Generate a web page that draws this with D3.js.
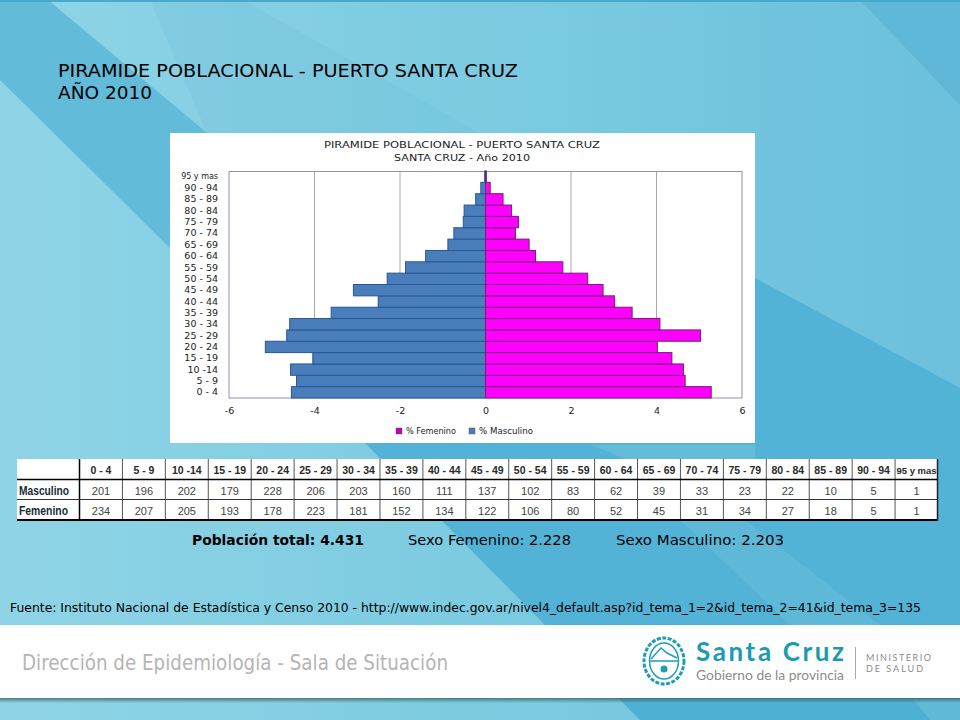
<!DOCTYPE html>
<html><head><meta charset="utf-8">
<script src="https://cdn.jsdelivr.net/npm/d3@7"></script>
<style>html,body{margin:0;padding:0;background:#fff}svg{display:block;font-family:"DejaVu Sans",sans-serif}</style>
</head><body><div id="c"></div>
<script>
const ageGroups=["0 - 4","5 - 9","10 -14","15 - 19","20 - 24","25 - 29","30 - 34","35 - 39","40 - 44","45 - 49","50 - 54","55 - 59","60 - 64","65 - 69","70 - 74","75 - 79","80 - 84","85 - 89","90 - 94","95 y mas"];
const masculino=[201,196,202,179,228,206,203,160,111,137,102,83,62,39,33,23,22,10,5,1];
const femenino=[234,207,205,193,178,223,181,152,134,122,106,80,52,45,31,34,27,18,5,1];
const pctMasculino=[4.54,4.42,4.56,4.04,5.15,4.65,4.58,3.61,2.51,3.09,2.30,1.87,1.40,0.88,0.74,0.52,0.50,0.23,0.11,0.02];
const pctFemenino=[5.28,4.67,4.63,4.36,4.02,5.03,4.08,3.43,3.02,2.75,2.39,1.81,1.17,1.02,0.70,0.77,0.61,0.41,0.11,0.02];
const xTicks=[-6,-4,-2,0,2,4,6];
const seriesNames=["% Femenino","% Masculino"];

const svg=d3.select("#c").append("svg").attr("width",960).attr("height",720);
const defs=svg.append("defs");
const g=defs.append("linearGradient").attr("id","bg").attr("x1",0).attr("y1",0).attr("x2",1).attr("y2",0);
[[0,"#8fd4e6"],[0.5,"#7ccbe1"],[1,"#6cc0dc"]].forEach(s=>g.append("stop").attr("offset",s[0]).attr("stop-color",s[1]));
const sh=defs.append("linearGradient").attr("id","sh").attr("x1",0).attr("y1",0).attr("x2",0).attr("y2",1);
[[0,0.85],[1,0]].forEach(s=>sh.append("stop").attr("offset",s[0]).attr("stop-color","#3f6a72").attr("stop-opacity",s[1]));

svg.append("rect").attr("width",960).attr("height",720).attr("fill","url(#bg)");
// background facets
const facets=[
 ["M0,0L48,0L207,133L170,248L0,80Z","#62bbd8",1],
 ["M150,0L243,0L480,133L207,133Z","#62b8d6",0.2],
 ["M365,443L545,625L960,625L960,388L755,278L755,443Z","#52b3d6",1],
 ["M592,445L755,445L755,459L625,459Z","#64bcd9",1],
 ["M680,520L790,625L880,625L745,520Z","#6cc0dc",0.45],
 ["M860,0L960,0L960,105Z","#5fb8d7",1],
 ["M618,698L640,720L960,720L960,698Z","#4db1d4",1],
 ["M912,698L930,720L960,720L960,698Z","#60bad8",1]
];
svg.selectAll("path.facet").data(facets).join("path").attr("class","facet").attr("d",d=>d[0]).attr("fill",d=>d[1]).attr("fill-opacity",d=>d[2]);
svg.append("rect").attr("width",960).attr("height",2).attr("fill","#45aacb");

// heading
svg.append("text").attr("x",58).attr("y",77).attr("font-size",17).attr("textLength",460).attr("lengthAdjust","spacingAndGlyphs").attr("fill","#000").text("PIRAMIDE POBLACIONAL - PUERTO SANTA CRUZ");
svg.append("text").attr("x",58).attr("y",99).attr("font-size",17).attr("textLength",94).attr("lengthAdjust","spacingAndGlyphs").attr("fill","#000").text("AÑO 2010");

// chart panel
svg.append("rect").attr("x",170).attr("y",133).attr("width",585).attr("height",310).attr("fill","#fff");
const tc=svg.append("g").attr("text-anchor","middle").attr("fill","#222").attr("font-size",9.5);
tc.append("text").attr("x",462).attr("y",148).attr("textLength",276).attr("lengthAdjust","spacingAndGlyphs").text("PIRAMIDE POBLACIONAL - PUERTO SANTA CRUZ");
tc.append("text").attr("x",462).attr("y",161).attr("textLength",136).attr("lengthAdjust","spacingAndGlyphs").text("SANTA CRUZ - Año 2010");

const x=d3.scaleLinear().domain([-6,6]).range([229,742]);
const y=d3.scaleBand().domain(ageGroups).range([398,171]).paddingInner(0).paddingOuter(0);
const plot=svg.append("g");
plot.selectAll("line.grid").data(xTicks.slice(1,-1).filter(t=>t!==0)).join("line").attr("class","grid")
  .attr("x1",d=>x(d)).attr("x2",d=>x(d)).attr("y1",171).attr("y2",398).attr("stroke","#a9a9a9").attr("stroke-width",1);
plot.append("rect").attr("x",229).attr("y",171.5).attr("width",513).attr("height",226.5).attr("fill","none").attr("stroke","#8f93b5").attr("stroke-width",1);
plot.selectAll("rect.m").data(ageGroups).join("rect").attr("class","m")
  .attr("x",(d,i)=>x(-pctMasculino[i])).attr("y",d=>y(d)).attr("width",(d,i)=>x(0)-x(-pctMasculino[i])).attr("height",y.bandwidth())
  .attr("fill","#4a7ebb").attr("stroke","#2a5596").attr("stroke-width",1);
plot.selectAll("rect.f").data(ageGroups).join("rect").attr("class","f")
  .attr("x",x(0)).attr("y",d=>y(d)).attr("width",(d,i)=>x(pctFemenino[i])-x(0)).attr("height",y.bandwidth())
  .attr("fill","#ff00ff").attr("stroke","#7a1a7a").attr("stroke-width",1);
const yAxis=svg.append("g").attr("transform","translate(218,0)").call(d3.axisLeft(y).tickSize(0).tickPadding(0));
yAxis.select(".domain").remove();
yAxis.selectAll("text").attr("font-size",d=>d==="95 y mas"?8:9.5).attr("fill","#222").attr("font-family","DejaVu Sans");
const xAxis=svg.append("g").attr("transform","translate(0,407)").call(d3.axisBottom(x).tickValues(xTicks).tickFormat(d=>String(d)).tickSize(0).tickPadding(0));
xAxis.select(".domain").remove();
xAxis.selectAll("text").attr("font-size",9.5).attr("fill","#222").attr("font-family","DejaVu Sans");

// legend
const lg=svg.append("g");
[[396,"#c000c0",50],[469,"#4a7ebb",54]].forEach((l,i)=>{
 lg.append("rect").attr("x",l[0]).attr("y",428).attr("width",6).attr("height",6).attr("fill",l[1]).attr("stroke","#555").attr("stroke-width",.5);
 lg.append("text").attr("x",l[0]+10).attr("y",434).attr("font-size",8).attr("fill","#222").attr("textLength",l[2]).attr("lengthAdjust","spacingAndGlyphs").text(seriesNames[i]);
});

// table
const colX=d3.scaleBand().domain(ageGroups).range([79.5,938]);
const tbl=svg.append("g");
tbl.append("rect").attr("x",17).attr("y",459).attr("width",921).attr("height",61).attr("fill","#fff");
const rows=[["Masculino",masculino,495,50],["Femenino",femenino,515,49]];
tbl.selectAll("text.h").data(ageGroups).join("text").attr("class","h").attr("x",d=>colX(d)+colX.bandwidth()/2).attr("y",474)
  .attr("text-anchor","middle").attr("font-family","Liberation Sans").attr("font-weight","bold").attr("font-size",d=>d==="95 y mas"?9.5:10.5).attr("fill","#2a2a2a").text(d=>d);
rows.forEach(r=>{
 tbl.append("text").attr("x",19).attr("y",r[2]).attr("font-family","Liberation Sans").attr("font-weight","bold").attr("font-size",12).attr("fill","#1a2a3a").attr("textLength",r[3]).attr("lengthAdjust","spacingAndGlyphs").text(r[0]);
 tbl.selectAll("text.v"+r[0]).data(r[1]).join("text").attr("x",(d,i)=>colX(ageGroups[i])+colX.bandwidth()/2).attr("y",r[2])
  .attr("text-anchor","middle").attr("font-family","Liberation Sans").attr("font-size",11).attr("fill","#444").text(d=>d);
});
ageGroups.forEach(a=>{tbl.append("line").attr("x1",colX(a)).attr("x2",colX(a)).attr("y1",459).attr("y2",520).attr("stroke",a==="0 - 4"?"#000":"#555").attr("stroke-width",a==="0 - 4"?1.5:1);});
tbl.append("line").attr("x1",17).attr("x2",938).attr("y1",479.5).attr("y2",479.5).attr("stroke","#000").attr("stroke-width",1.5);
tbl.append("line").attr("x1",17).attr("x2",938).attr("y1",499.5).attr("y2",499.5).attr("stroke","#333").attr("stroke-width",1);
tbl.append("line").attr("x1",17).attr("x2",938).attr("y1",520).attr("y2",520).attr("stroke","#000").attr("stroke-width",2);
tbl.append("line").attr("x1",937.5).attr("x2",937.5).attr("y1",459).attr("y2",521).attr("stroke","#222").attr("stroke-width",1.5);

// totals
const tot=svg.append("g").attr("font-size",14).attr("fill","#000");
tot.append("text").attr("x",192).attr("y",545).attr("font-weight","bold").attr("textLength",172).attr("lengthAdjust","spacingAndGlyphs").text("Población total: 4.431");
tot.append("text").attr("x",408).attr("y",545).attr("textLength",163).attr("lengthAdjust","spacingAndGlyphs").text("Sexo Femenino: 2.228");
tot.append("text").attr("x",616).attr("y",545).attr("textLength",168).attr("lengthAdjust","spacingAndGlyphs").text("Sexo Masculino: 2.203");

svg.append("text").attr("x",10).attr("y",612).attr("font-size",12).attr("textLength",911).attr("lengthAdjust","spacingAndGlyphs").attr("fill","#000")
 .text("Fuente: Instituto  Nacional de Estadística  y Censo 2010 - http://www.indec.gov.ar/nivel4_default.asp?id_tema_1=2&id_tema_2=41&id_tema_3=135");

// footer
svg.append("rect").attr("y",698).attr("width",960).attr("height",5).attr("fill","url(#sh)");
svg.append("rect").attr("y",625).attr("width",960).attr("height",73).attr("fill","#fff");
svg.append("text").attr("x",22).attr("y",670).attr("font-size",21).attr("fill","#b5b5b5").attr("textLength",426).attr("lengthAdjust","spacingAndGlyphs").text("Dirección de Epidemiología - Sala de Situación");

// logo
const logo=svg.append("g").attr("transform","translate(664,661)");
logo.append("ellipse").attr("rx",20).attr("ry",23).attr("fill","none").attr("stroke","#1f9db5").attr("stroke-width",3).attr("stroke-dasharray","4 1.5");
logo.append("ellipse").attr("rx",14.5).attr("ry",18).attr("fill","#fff").attr("stroke","#1f9db5").attr("stroke-width",1.5);
logo.append("path").attr("d","M-14,0L14,0M-13,-2L-3,-13L3,-8L13,-3").attr("fill","none").attr("stroke","#1f9db5").attr("stroke-width",1.5);
logo.append("circle").attr("cy",8).attr("r",3.5).attr("fill","#1f9db5");
svg.append("text").attr("x",696).attr("y",661).attr("font-family","Lato").attr("font-size",26).attr("font-weight","bold").attr("fill","#1a9bb3").attr("textLength",148).attr("lengthAdjust","spacing").text("Santa Cruz");
svg.append("text").attr("x",696).attr("y",680).attr("font-family","Lato").attr("font-size",13).attr("fill","#8c8c8c").attr("textLength",148).attr("lengthAdjust","spacingAndGlyphs").text("Gobierno de la provincia");
svg.append("line").attr("x1",855.5).attr("x2",855.5).attr("y1",647).attr("y2",679).attr("stroke","#aaa");
svg.append("text").attr("x",866).attr("y",661).attr("font-family","Lato").attr("font-size",9).attr("fill","#8c8c8c").attr("textLength",65).attr("lengthAdjust","spacing").text("MINISTERIO");
svg.append("text").attr("x",866).attr("y",672).attr("font-family","Lato").attr("font-size",9).attr("fill","#8c8c8c").attr("textLength",57).attr("lengthAdjust","spacing").text("DE SALUD");
</script></body></html>
